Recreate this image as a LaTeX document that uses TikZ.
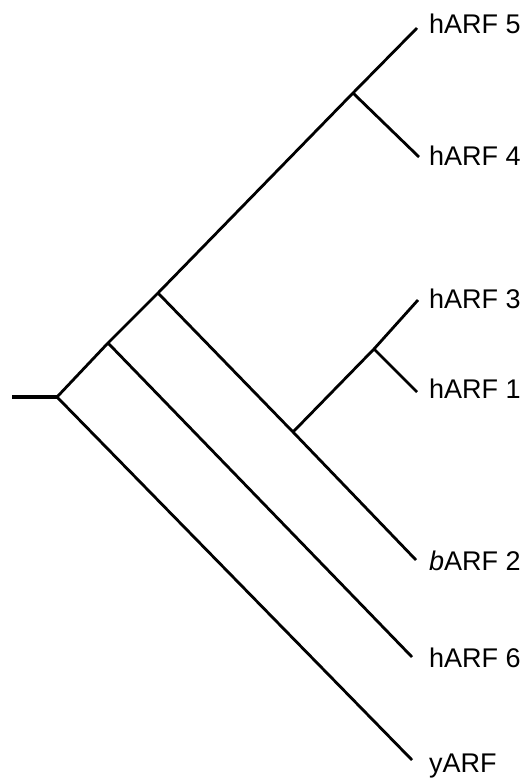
\documentclass[tikz,border=0pt]{standalone}
\usepackage{fontspec}
\setmainfont{Liberation Sans}
\begin{document}
\begin{tikzpicture}[x=1pt,y=-1pt,
  branch/.style={line width=2.8pt, line join=round},
  leaf/.style={anchor=base west, inner sep=0pt, font=\fontsize{27}{31}\selectfont}]
\useasboundingbox (0,0) rectangle (528,780);

% internal nodes of the tree
\coordinate (stub) at (12,397);
\coordinate (root) at (57,397);
\coordinate (n1) at (108,343);
\coordinate (n2) at (158,293);
\coordinate (n45) at (353,93);
\coordinate (n13x) at (293,432);
\coordinate (n13) at (374,349);

% branch tips
\coordinate (t5) at (417,28);
\coordinate (t4) at (419,157);
\coordinate (t3) at (418,300);
\coordinate (t1) at (417,392);
\coordinate (tb2) at (416,560);
\coordinate (t6) at (412,657);
\coordinate (ty) at (412,760);

% leaf labels
\node[leaf] (l5) at (429,33) {hARF 5};
\node[leaf] (l4) at (429,165) {hARF 4};
\node[leaf] (l3) at (429,308) {hARF 3};
\node[leaf] (l1) at (429,398) {hARF 1};
\node[leaf] (lb2) at (429,570) {\textit{b}ARF 2};
\node[leaf] (l6) at (429,667) {hARF 6};
\node[leaf] (ly) at (429,772) {yARF};

% branches
\draw[branch, line width=3.4pt] (stub) -- (root);
\draw[branch] (root) -- (n1) -- (n2) -- (n45) -- (t5);
\draw[branch] (n45) -- (t4);
\draw[branch] (n2) -- (n13x) -- (tb2);
\draw[branch] (n13x) -- (n13) -- (t3);
\draw[branch] (n13) -- (t1);
\draw[branch] (n1) -- (t6);
\draw[branch] (root) -- (ty);
\end{tikzpicture}
\end{document}
